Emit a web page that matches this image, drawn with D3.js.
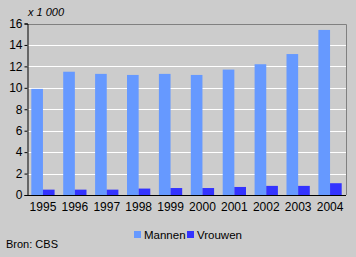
<!DOCTYPE html>
<html>
<head>
<meta charset="utf-8">
<script src="https://cdn.jsdelivr.net/npm/d3@7"></script>
<style>
  body { margin: 0; background: #cccccc; }
  text { font-family: "Liberation Sans", Arial, sans-serif; font-size: 11px; fill: #000; }
</style>
</head>
<body>
<svg id="chart" width="356" height="257"></svg>
<script>
// data (x 1 000)
var jaren = ['1995', '1996', '1997', '1998', '1999', '2000', '2001', '2002', '2003', '2004'];
var mannen = [9.9, 11.5, 11.3, 11.2, 11.3, 11.2, 11.7, 12.2, 13.15, 15.4];
var vrouwen = [0.5, 0.5, 0.5, 0.6, 0.65, 0.65, 0.75, 0.85, 0.85, 1.1];
var yTicks = [0, 2, 4, 6, 8, 10, 12, 14, 16];
var reeksen = ['Mannen', 'Vrouwen'];
var kleuren = ['#6699ff', '#3333ff'];

var pLeft = 27, pRight = 346, pTop = 23.5, pBottom = 195;
var svg = d3.select('#chart');

var x = d3.scaleBand().domain(jaren).range([pLeft, pRight]).paddingInner(0.27).paddingOuter(0.135);
var sub = d3.scaleBand().domain(reeksen).range([0, x.bandwidth()]);
var y = d3.scaleLinear().domain([0, 16]).range([pBottom, pTop]);

// gridlines
svg.append('g').selectAll('line').data(yTicks.filter(function(d) { return d > 0 && d < 16; }))
    .enter().append('line')
    .attr('x1', pLeft).attr('x2', pRight)
    .attr('y1', function(d) { return Math.round(y(d)) + 0.5; })
    .attr('y2', function(d) { return Math.round(y(d)) + 0.5; })
    .attr('stroke', '#ffffff').attr('stroke-width', 1);

// frame top and right
svg.append('path')
    .attr('d', 'M' + pLeft + ',' + (Math.round(pTop) + 0.5) + 'H' + (pRight + 0.5) + 'V' + pBottom)
    .attr('fill', 'none').attr('stroke', '#808080');

// bars
var groep = svg.append('g').selectAll('g').data(jaren).enter().append('g')
    .attr('transform', function(d) { return 'translate(' + x(d) + ',0)'; });
groep.append('rect')
    .attr('x', sub('Mannen')).attr('width', sub.bandwidth())
    .attr('y', function(d, i) { return y(mannen[i]); })
    .attr('height', function(d, i) { return y(0) - y(mannen[i]); })
    .attr('fill', kleuren[0]);
groep.append('rect')
    .attr('x', sub('Vrouwen')).attr('width', sub.bandwidth())
    .attr('y', function(d, i) { return y(vrouwen[i]); })
    .attr('height', function(d, i) { return y(0) - y(vrouwen[i]); })
    .attr('fill', kleuren[1]);

// y axis
var yAxis = svg.append('g').attr('transform', 'translate(' + (pLeft + 0.5) + ',0)')
    .call(d3.axisLeft(y).tickValues(yTicks).tickSize(3).tickPadding(2));
yAxis.select('.domain').attr('stroke', '#000');
yAxis.selectAll('text').style('font-size', '12px').style('font-family', '"Liberation Sans", Arial, sans-serif');

// x axis
var xAxis = svg.append('g').attr('transform', 'translate(0,' + (pBottom + 0.5) + ')')
    .call(d3.axisBottom(x).tickSize(0).tickPadding(7));
xAxis.select('.domain').attr('d', 'M' + pLeft + ',0H' + pRight).attr('stroke', '#000');
xAxis.selectAll('text').style('font-size', '12px').style('font-family', '"Liberation Sans", Arial, sans-serif');

svg.append('text').attr('x', 28).attr('y', 16).style('font-style', 'italic').text('x 1 000');

// legend
var legX = [134, 187];
reeksen.forEach(function(r, i) {
    svg.append('rect').attr('x', legX[i]).attr('y', 231).attr('width', 7).attr('height', 7).attr('fill', kleuren[i]);
    svg.append('text').attr('x', legX[i] + 10).attr('y', 239).style('font-size', '11.5px').text(r);
});

svg.append('text').attr('x', 6).attr('y', 248).text('Bron: CBS');
</script>
</body>
</html>
